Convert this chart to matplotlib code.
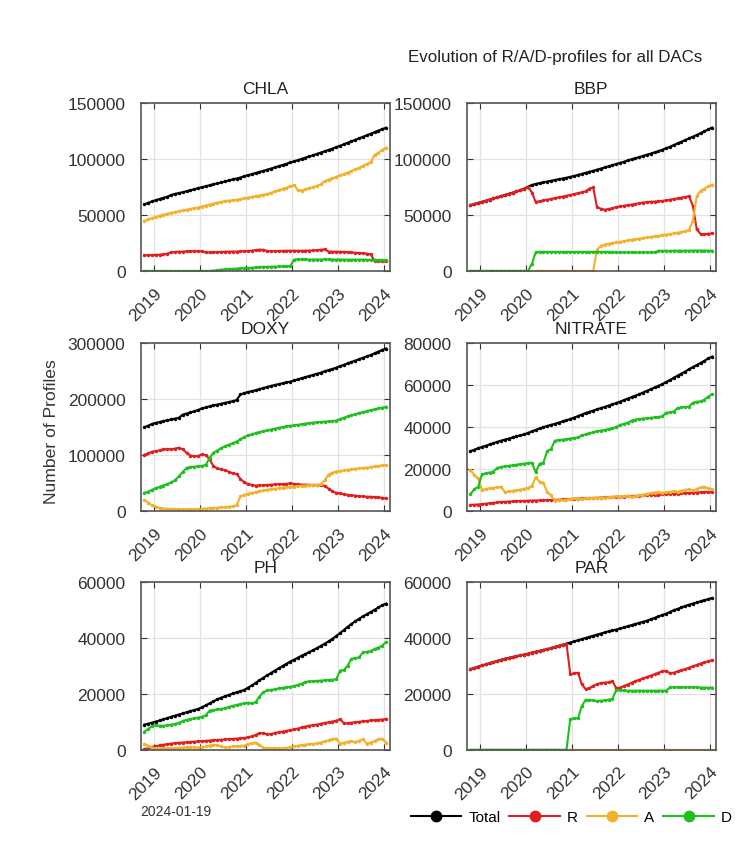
import numpy as np
import pandas as pd
import matplotlib
matplotlib.use("Agg")
import matplotlib.pyplot as plt
from matplotlib.lines import Line2D
from datetime import datetime

plt.rcParams['font.family'] = ['Liberation Sans', 'DejaVu Sans']

# monthly snapshots, Oct 2018 -> Jan 2024
dates = pd.date_range('2018-10-01', periods=64, freq='MS') + pd.Timedelta(days=18)

params = ["CHLA", "BBP", "DOXY", "NITRATE", "PH", "PAR"]

# ---- CHLA ----
chla_total = [59500, 60800, 62000, 63300, 64300, 65300, 66300, 67800, 68800, 69500, 70300, 71200, 72000, 72900, 73900, 74800,
              75600, 76500, 77300, 78200, 79000, 79900, 80800, 81700, 82500, 83400, 84600, 85500, 86500, 87400, 88400, 89300,
              90400, 91400, 92400, 93500, 94600, 95600, 96800, 97900, 98900, 100000, 101100, 102200, 103300, 104500, 105700, 106800,
              108000, 109200, 110500, 111800, 113100, 114400, 115700, 117000, 118400, 119700, 121100, 122500, 123900, 125300, 126600, 127800]
chla_r = [14000, 14000, 14200, 14400, 14500, 14800, 15500, 16500, 17000, 17200, 17300, 17500, 17500, 17600, 17700, 17500,
          16500, 16500, 16700, 16800, 17000, 17100, 17200, 17300, 17300, 17500, 17600, 17800, 18200, 18600, 19000, 18900,
          17800, 17600, 17700, 17800, 17900, 18000, 18000, 18100, 18000, 18000, 18100, 18200, 18300, 18500, 19000, 19200,
          17300, 17200, 17200, 17100, 17000, 16800, 16500, 16200, 16000, 15800, 15500, 14800, 9000, 8700, 8600, 8500]
chla_a = [44700, 46000, 47200, 48300, 49200, 50200, 51100, 51900, 52600, 53300, 54000, 54700, 55300, 56000, 56600, 57500,
          58400, 59300, 60100, 60900, 61700, 62300, 62700, 63100, 63600, 64100, 64800, 65500, 66200, 66800, 67300, 68000,
          68600, 69700, 71000, 72100, 73200, 74300, 75500, 76500, 72000, 71800, 72800, 74000, 75000, 76000, 77300, 80200,
          81500, 82700, 84000, 85300, 86500, 87800, 89200, 90600, 92000, 93800, 95500, 97000, 103500, 105500, 108000, 110000]
chla_d = [0, 0, 0, 0, 0, 0, 0, 0, 0, 0, 0, 0, 0, 0, 0, 0,
          0, 0, 300, 700, 1200, 1500, 1700, 1900, 2100, 2300, 2500, 2700, 2900, 3200, 3500, 3600,
          3700, 3800, 3900, 4000, 4100, 4200, 4300, 10200, 10400, 10300, 10300, 10200, 10200, 10200, 10200, 10300,
          10300, 10200, 10200, 10200, 10100, 10100, 10100, 10100, 10100, 10100, 10000, 10000, 10000, 9800, 9700, 9500]

# ---- BBP ----
bbp_total = [58700, 59700, 60700, 61700, 62700, 63700, 64700, 65700, 66700, 67800, 68800, 69900, 71000, 72100, 73500, 75200,
             76800, 77600, 78400, 79100, 79800, 80500, 81200, 81900, 82500, 83200, 84000, 84800, 85700, 86600, 87500, 88500,
             89400, 90400, 91400, 92400, 93400, 94400, 95500, 96500, 97500, 98600, 99600, 100600, 101600, 102700, 103700, 104800,
             105800, 106900, 108200, 109500, 110900, 112300, 113800, 115300, 116800, 118300, 119800, 121400, 123000, 124700, 126300, 128000]
bbp_r = [58700, 59700, 60700, 61700, 62700, 63700, 64700, 65700, 66700, 67800, 68800, 69900, 71000, 72100, 73500, 75200,
         70000, 61500, 62200, 62900, 63600, 64300, 65000, 65700, 66400, 67100, 67800, 68600, 69400, 70200, 71000, 73500,
         74500, 57000, 55500, 54700, 55300, 56000, 57000, 57700, 58200, 58700, 59200, 59800, 60400, 61000, 61500, 61800,
         61900, 62100, 62500, 63000, 63600, 64200, 64800, 65400, 66000, 66800, 58000, 37000, 33000, 32800, 33200, 33500]
bbp_a = [0, 0, 0, 0, 0, 0, 0, 0, 0, 0, 0, 0, 0, 0, 0, 0,
         0, 0, 0, 0, 0, 0, 0, 0, 0, 0, 0, 0, 0, 0, 0, 0,
         0, 19000, 22500, 23500, 24200, 24800, 25400, 26000, 26600, 27200, 27800, 28300, 28900, 29400, 29900, 30400,
         30900, 31400, 31900, 32500, 33000, 33600, 34200, 34800, 35400, 36500, 45000, 67000, 71500, 73500, 75500, 77000]
bbp_d = [0, 0, 0, 0, 0, 0, 0, 0, 0, 0, 0, 0, 0, 0, 0, 0,
         6500, 16500, 17000, 17000, 17000, 17000, 17000, 17000, 17000, 17000, 17000, 17000, 17000, 17000, 17000, 17000,
         17000, 17000, 17000, 17000, 17000, 16600, 16600, 16600, 16600, 16600, 16600, 16600, 16600, 16600, 16600, 16600,
         16700, 18000, 18000, 18000, 18000, 18100, 18100, 18100, 18100, 18100, 18200, 18200, 18200, 18200, 18100, 18000]

# ---- DOXY ----
doxy_total = [149700, 152500, 155500, 157500, 159000, 160500, 162000, 163500, 165000, 166500, 172000, 174000, 176000, 178000, 180500, 183000,
              185000, 187000, 188500, 190000, 191500, 193000, 194500, 196000, 198000, 208000, 210500, 212500, 214000, 215500, 217500, 219500,
              221500, 223200, 225000, 226500, 228000, 229500, 231000, 233000, 235000, 237000, 239000, 241000, 243000, 245000, 247000, 249500,
              251500, 253500, 256000, 258500, 261000, 263500, 266000, 268500, 271000, 273500, 276000, 278500, 281500, 284500, 287500, 290000]
doxy_r = [100600, 103000, 106000, 107000, 108500, 110000, 110500, 110000, 111500, 113000, 110000, 104000, 99000, 97500, 98500, 101000,
          100000, 92000, 80000, 76000, 74500, 73000, 70000, 67500, 66500, 57000, 51500, 48000, 46500, 45500, 45800, 46000,
          46500, 47000, 47500, 48000, 48000, 48500, 49500, 48500, 47500, 47000, 47000, 46800, 46500, 46500, 46000, 45000,
          40000, 35000, 32500, 31500, 30000, 29000, 28000, 27500, 26500, 26000, 25500, 25500, 25000, 24500, 23500, 22500]
doxy_a = [20000, 15000, 10000, 7500, 5500, 4500, 4000, 3500, 3000, 3000, 3000, 3000, 3000, 3000, 3500, 4000,
          4500, 5000, 5500, 6000, 6500, 7000, 7500, 8500, 10000, 26000, 29000, 31000, 32500, 34000, 35500, 37000,
          38000, 39000, 40000, 41000, 41500, 42000, 42500, 43500, 44500, 45000, 45500, 46000, 46500, 47000, 47500, 55000,
          65000, 68500, 70500, 71500, 72500, 73500, 74500, 75500, 76000, 77000, 77500, 78500, 79500, 80500, 81500, 82000]
doxy_d = [32500, 34500, 38000, 41000, 43500, 45500, 48000, 51000, 55000, 62000, 70000, 77000, 78500, 79000, 80000, 80500,
          82500, 95000, 104000, 108000, 112000, 115500, 118500, 121000, 124000, 128000, 132000, 135000, 137000, 139000, 141000, 142500,
          144000, 145500, 147000, 148500, 150000, 151000, 152000, 153000, 154000, 155000, 156000, 157000, 157800, 158500, 159000, 159500,
          160000, 160500, 161500, 164000, 166500, 169000, 171000, 173000, 175000, 176500, 178500, 180000, 181500, 183000, 184500, 186000]

# ---- NITRATE ----
nitrate_total = [28500, 29200, 29900, 30500, 31100, 31700, 32300, 32900, 33500, 34000, 34500, 35000, 35500, 36000, 36500, 37200,
                 37900, 38600, 39300, 39900, 40500, 41000, 41500, 42100, 42700, 43200, 43800, 44500, 45200, 45900, 46600, 47200,
                 47800, 48400, 49000, 49600, 50200, 50800, 51400, 52100, 52800, 53500, 54200, 54900, 55600, 56400, 57200, 58000,
                 58800, 59600, 60400, 61400, 62400, 63400, 64400, 65400, 66400, 67500, 68500, 69500, 70500, 71500, 72600, 73500]
nitrate_r = [2900, 3000, 3100, 3300, 3500, 3700, 3900, 4100, 4300, 4400, 4500, 4600, 4700, 4800, 4800, 4900,
             5000, 5000, 5100, 5100, 5200, 5200, 5300, 5400, 5500, 5600, 5700, 5800, 5900, 6000, 6100, 6200,
             6200, 6300, 6400, 6500, 6500, 6600, 6700, 6800, 6900, 7000, 7100, 7200, 7300, 7400, 7500, 7600,
             7700, 7800, 7900, 8000, 8100, 8200, 8300, 8400, 8500, 8600, 8700, 8800, 8900, 9000, 9000, 9000]
nitrate_a = [19500, 17000, 15500, 10000, 10500, 10800, 11000, 11300, 11600, 9000, 9300, 9600, 9900, 10200, 10600, 11000,
             12000, 16000, 14000, 13500, 9000, 7500, 5000, 5100, 5200, 5400, 5700, 6000, 5800, 5900, 6000, 6200,
             6300, 6000, 6200, 6400, 6500, 6800, 7000, 6900, 7100, 7300, 6800, 7000, 7400, 7800, 8200, 8500,
             8800, 8900, 8600, 8900, 9200, 9500, 9100, 9700, 10000, 10400, 9800, 10500, 11200, 11500, 10800, 10300]
nitrate_d = [8000, 10500, 11500, 17500, 18000, 18300, 18800, 20500, 21000, 21300, 21500, 21800, 22000, 22300, 22600, 22800,
             23000, 18500, 22500, 23000, 28500, 29500, 33500, 33800, 34000, 34200, 34500, 34800, 35000, 36000, 36500, 37000,
             37500, 38000, 38300, 38600, 39000, 39300, 40000, 41000, 41500, 42000, 43000, 43500, 43800, 44000, 44200, 44400,
             44600, 44800, 45000, 46800, 47000, 47300, 49000, 49300, 49500, 49700, 51500, 52000, 52200, 53000, 54500, 55500]

# ---- PH ----
ph_total = [9000, 9300, 9700, 10100, 10500, 10900, 11300, 11800, 12200, 12600, 13000, 13400, 13800, 14200, 14600, 15200,
            15900, 16600, 17300, 18000, 18600, 19100, 19600, 20100, 20500, 20900, 21400, 22200, 23000, 23900, 24800, 25700,
            26600, 27400, 28300, 29100, 29900, 30700, 31500, 32200, 32900, 33600, 34200, 34900, 35600, 36300, 37100, 37900,
            38700, 39600, 40600, 41700, 42800, 43900, 44900, 45900, 46800, 47600, 48400, 49200, 50000, 50800, 51600, 52200]
ph_r = [300, 600, 1000, 1300, 1600, 1800, 2000, 2200, 2400, 2500, 2600, 2700, 2800, 2900, 3000, 3100,
        3200, 3300, 3400, 3500, 3600, 3700, 3800, 3900, 4000, 4100, 4200, 4500, 4800, 5300, 5900, 6000,
        5500, 5600, 6000, 6300, 6500, 6800, 7000, 7300, 7600, 8000, 8300, 8600, 8800, 9000, 9300, 9600,
        9800, 10100, 10400, 10900, 9400, 9500, 9700, 9800, 10000, 10200, 10300, 10500, 10600, 10700, 10800, 11000]
ph_a = [2000, 1500, 800, 500, 500, 600, 500, 500, 600, 700, 800, 900, 1000, 900, 800, 1000,
        1200, 1500, 1800, 1600, 1200, 900, 1000, 1200, 1300, 1400, 1500, 2000, 2400, 2600, 1800, 800,
        500, 500, 600, 500, 500, 700, 900, 1200, 1500, 1700, 1800, 2000, 2100, 2300, 2600, 3000,
        3400, 3800, 4000, 2200, 2500, 2900, 3100, 2700, 3300, 3800, 2200, 2600, 3200, 3700, 4000, 2600]
ph_d = [6500, 7500, 8500, 8700, 8600, 8600, 8700, 9000, 9200, 9600, 10200, 10700, 11000, 11200, 11500, 11800,
        12300, 14000, 14200, 14400, 14600, 14800, 15300, 15700, 16000, 16300, 16600, 16800, 16600, 17000, 19000, 20500,
        21200, 21400, 21600, 21900, 22100, 22300, 22500, 22800, 23200, 23600, 24200, 24400, 24500, 24600, 24700, 24800,
        24900, 25000, 25200, 28300, 28500, 30000, 32500, 32700, 33000, 34800, 35000, 35200, 36000, 36500, 37200, 38500]

# ---- PAR ----
par_total = [28800, 29200, 29700, 30100, 30500, 30900, 31300, 31700, 32100, 32500, 32800, 33100, 33400, 33700, 34000, 34300,
             34700, 35000, 35300, 35600, 35900, 36300, 36700, 37100, 37500, 37900, 38300, 38700, 39100, 39500, 39900, 40300,
             40700, 41100, 41500, 41900, 42300, 42600, 42900, 43300, 43700, 44100, 44500, 44900, 45300, 45700, 46100, 46600,
             47100, 47600, 48100, 48600, 49200, 49800, 50300, 50800, 51300, 51800, 52200, 52600, 53000, 53400, 53800, 54200]
par_r = [28800, 29200, 29700, 30100, 30500, 30900, 31300, 31700, 32100, 32500, 32800, 33100, 33400, 33700, 34000, 34300,
         34700, 35000, 35300, 35600, 35900, 36300, 36700, 37100, 37500, 37900, 27000, 27300, 27500, 23500, 21700, 22000,
         22800, 23400, 23800, 24000, 24100, 24500, 22000, 22200, 22800, 23300, 23900, 24500, 25000, 25500, 26000, 26500,
         27000, 27500, 28000, 28200, 27300, 27500, 28000, 28400, 28800, 29300, 29800, 30300, 30800, 31200, 31600, 32000]
par_a = [0] * 64
par_d = [0, 0, 0, 0, 0, 0, 0, 0, 0, 0, 0, 0, 0, 0, 0, 0,
         0, 0, 0, 0, 0, 0, 0, 0, 0, 0, 11000, 11200, 11300, 15500, 17800, 17800,
         17600, 17400, 17500, 17700, 17900, 18200, 21400, 21300, 21200, 21100, 21100, 21100, 21100, 21100, 21100, 21100,
         21100, 21100, 21100, 21100, 22300, 22300, 22300, 22300, 22300, 22300, 22300, 22300, 22200, 22200, 22200, 22200]

series = {
    "CHLA": (chla_total, chla_r, chla_a, chla_d),
    "BBP": (bbp_total, bbp_r, bbp_a, bbp_d),
    "DOXY": (doxy_total, doxy_r, doxy_a, doxy_d),
    "NITRATE": (nitrate_total, nitrate_r, nitrate_a, nitrate_d),
    "PH": (ph_total, ph_r, ph_a, ph_d),
    "PAR": (par_total, par_r, par_a, par_d),
}
ymax = {"CHLA": 150000, "BBP": 150000, "DOXY": 300000, "NITRATE": 80000, "PH": 60000, "PAR": 60000}
ystep = {"CHLA": 50000, "BBP": 50000, "DOXY": 100000, "NITRATE": 20000, "PH": 20000, "PAR": 20000}

labels = ["Total", "R", "A", "D"]
colors = ["#000000", "#e01e1e", "#f2b12a", "#1ec01e"]

years = [datetime(y, 1, 1) for y in range(2019, 2025)]
year_labels = [str(y) for y in range(2019, 2025)]

fig = plt.figure(figsize=(7.41, 8.62), dpi=100)

# axes boxes in figure fraction (left, bottom, width, height)
lefts = [0.190, 0.630]
bottoms = [0.6845, 0.406, 0.129]
w, h = 0.336, 0.195

for k, name in enumerate(params):
    ax = fig.add_axes([lefts[k % 2], bottoms[k // 2], w, h])
    for vals, lab, col in zip(series[name], labels, colors):
        ax.plot(dates, vals, '-o', color=col, lw=1.5, ms=2.5, mew=0, label=lab)
    ax.set_xlim(datetime(2018, 9, 20), datetime(2024, 2, 17))
    ax.set_ylim(0, ymax[name])
    ax.set_yticks(np.arange(0, ymax[name] + 1, ystep[name]))
    ax.set_yticklabels([str(int(v)) for v in ax.get_yticks()])
    ax.set_xticks(years)
    ax.set_xticklabels(year_labels, rotation=45, ha='right', va='top', rotation_mode='anchor')
    ax.tick_params(direction='in', top=True, right=True, length=4, width=0.8,
                   labelsize=12.5, colors='#333333')
    ax.tick_params(axis='y', pad=11)
    ax.tick_params(axis='x', pad=10)
    ax.grid(True, color='#e2e2e2', lw=0.9)
    ax.set_axisbelow(True)
    for sp in ax.spines.values():
        sp.set_color('#555555')
        sp.set_linewidth(1.2)
    ax.set_title(name, fontsize=12.5, color='#222222', pad=7)

fig.text(0.749, 0.933, "Evolution of R/A/D-profiles for all DACs", ha='center', va='center',
         fontsize=12.2, color='#222222')
fig.text(0.070, 0.499, "Number of Profiles", rotation=90, ha='center', va='center',
         fontsize=12.6, color='#333333')
fig.text(0.189, 0.058, "2024-01-19", ha='left', va='center', fontsize=10, color='#333333')

handles = [Line2D([0], [0], color=c, lw=1.5, marker='o', ms=7.5) for c in colors]
fig.legend(handles, labels, loc='center', bbox_to_anchor=(0.771, 0.051), ncol=4, frameon=False,
           handlelength=3.3, handletextpad=0.45, columnspacing=0.6, fontsize=11)

fig.savefig("out.png", dpi=100)
